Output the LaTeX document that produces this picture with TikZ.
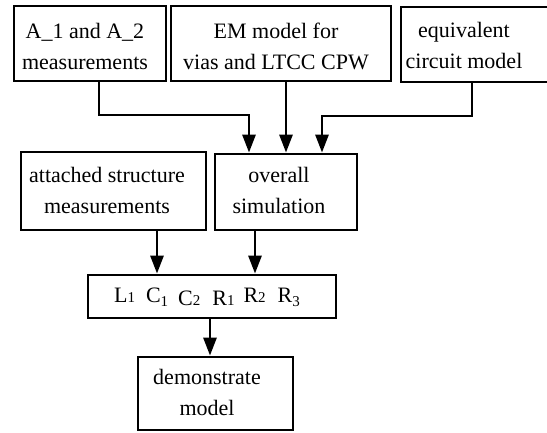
\documentclass[tikz,border=0pt]{standalone}
\usepackage{fontspec}
\setmainfont{Liberation Serif}
\usetikzlibrary{arrows.meta}
\newcommand{\smd}[1]{{\fontsize{15}{15}\selectfont #1}}
\newcommand{\sbd}[1]{\raisebox{-4pt}{\fontsize{15}{15}\selectfont #1}}
\begin{document}
\begin{tikzpicture}[x=1pt,y=-1pt,
  box/.style={draw=black, line width=2.8pt, inner sep=0pt, fill=none},
  txt/.style={inner sep=0pt, align=center, font=\fontsize{22}{31}\selectfont},
  arr/.style={line width=2.8pt, -{Triangle[length=18pt,width=13pt]}}]
\useasboundingbox (0,0) rectangle (547,432);
\fill[white] (0,0) rectangle (547,432);
% boxes
\node[box, minimum width=152pt, minimum height=75pt] (b1) at (90,43.5) {};
\node[box, minimum width=220pt, minimum height=75pt] (b2) at (281,43.5) {};
\node[box, minimum width=149pt, minimum height=75pt] (b3) at (475.5,44.5) {};
\node[box, minimum width=185pt, minimum height=78pt] (b4) at (113.5,191) {};
\node[box, minimum width=142pt, minimum height=76pt] (b5) at (286,192) {};
\node[box, minimum width=248pt, minimum height=43pt] (b6) at (212,296.5) {};
\node[box, minimum width=155pt, minimum height=73pt] (b7) at (215.5,393.5) {};
% texts
\node[txt] (t1) at (85,46) {A\_1 and A\_2\\measurements};
\node[txt] (t2) at (276,46) {EM model for\\vias and LTCC CPW};
\node[txt] (t3) at (464,45) {equivalent\\circuit model};
\node[txt] (t4) at (107,190) {attached structure\\measurements};
\node[txt] (t5) at (279,190) {overall\\simulation};
\node[txt] (t6) at (207,297) {L\smd{1}\hspace{11pt}C\sbd{1}\hspace{10pt}\raisebox{-3pt}{C\smd{2}}\hspace{12pt}\raisebox{-3pt}{R\smd{1}}\hspace{9pt}R\smd{2}\hspace{12pt}R\sbd{3}};
\node[txt] (t7) at (207,392) {demonstrate\\model};
% bend points
\coordinate (k1) at (99,115);
\coordinate (k2) at (249,115);
\coordinate (k3) at (286,115);
\coordinate (k4) at (472,116);
\coordinate (k5) at (322,116);
\coordinate (k6) at (157,250);
\coordinate (k7) at (255,250);
\coordinate (k8) at (210,340);
% connectors
\draw[arr] (b1.south -| k1) -- (k1) -- (k2) -- (b5.north -| k2);
\draw[arr] (b2.south -| k3) -- (b5.north -| k3);
\draw[arr] (b3.south -| k4) -- (k4) -- (k5) -- (b5.north -| k5);
\draw[arr] (b4.south -| k6) -- (b6.north -| k6);
\draw[arr] (b5.south -| k7) -- (b6.north -| k7);
\draw[arr] (b6.south -| k8) -- (b7.north -| k8);
\end{tikzpicture}
\end{document}
